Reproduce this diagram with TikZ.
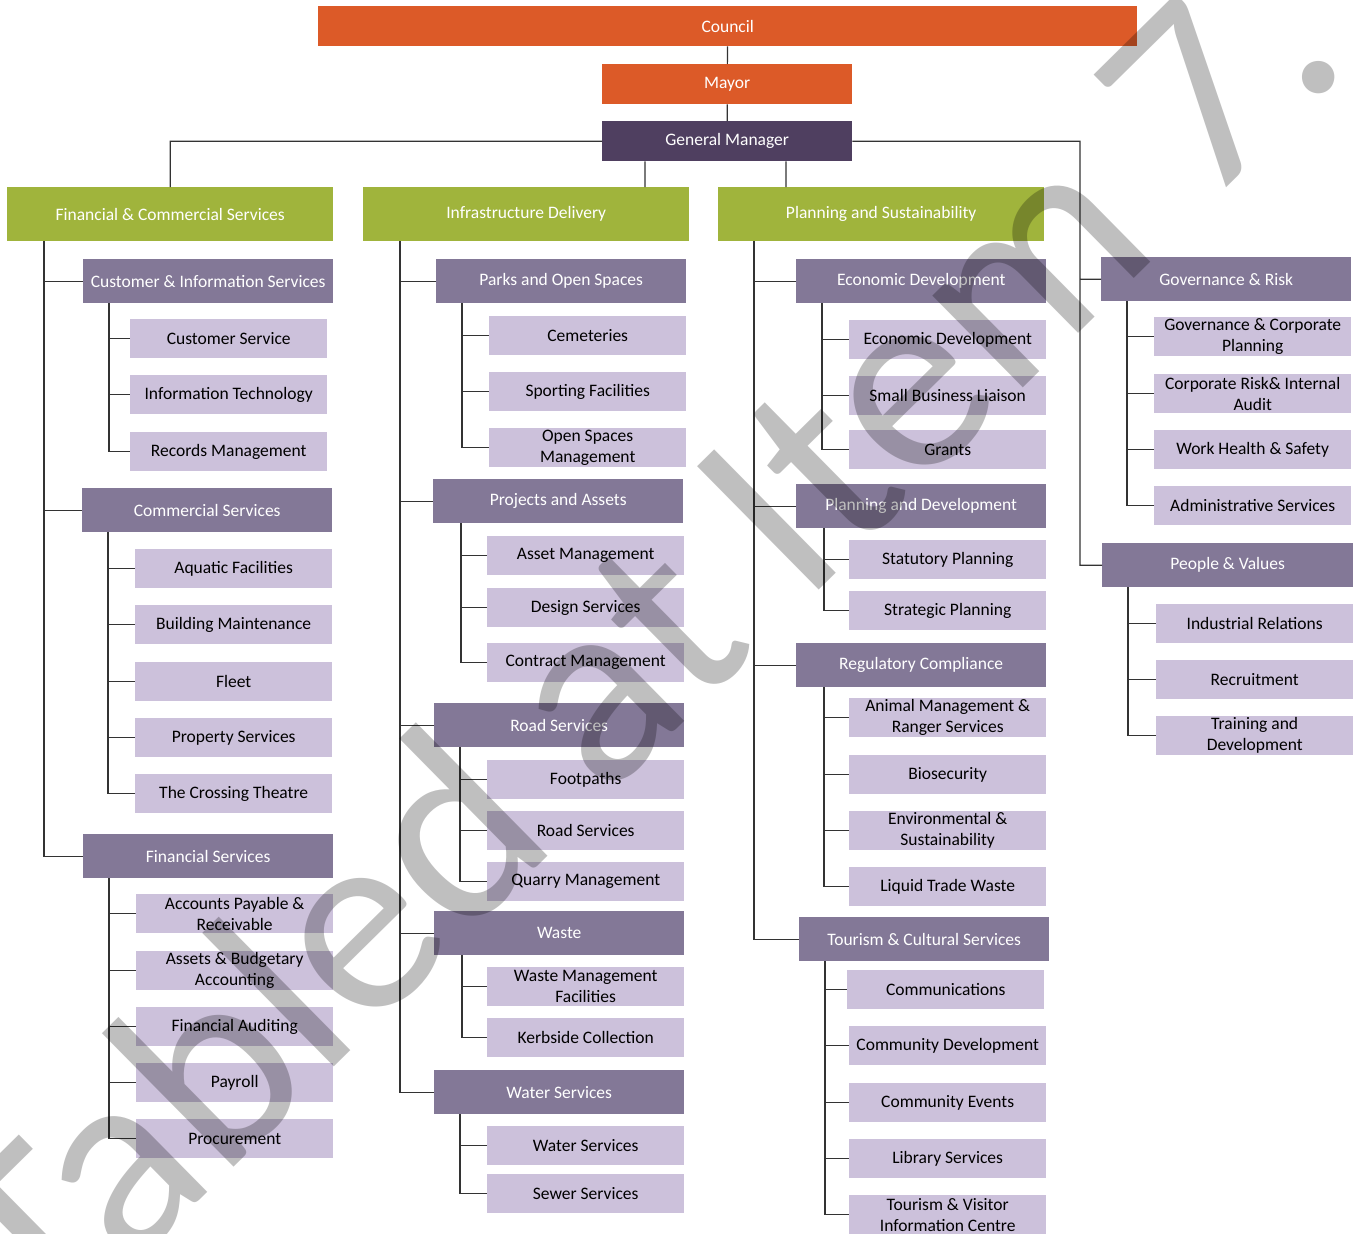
\documentclass[tikz,border=0pt]{standalone}
\usepackage{fontspec}
\setmainfont{Carlito}
\usetikzlibrary{positioning}
\definecolor{orangebar}{HTML}{DC5A28}
\definecolor{gmpurple}{HTML}{4F3F60}
\definecolor{divgreen}{HTML}{A0B43C}
\definecolor{unitpurple}{HTML}{837897}
\definecolor{leafpurple}{HTML}{CCC1DB}

\begin{document}
\begin{tikzpicture}[x=1pt,y=-1pt,
	every node/.style={font=\fontsize{17.5}{21}\selectfont,align=center,anchor=north west,inner xsep=2pt,inner ysep=0pt},
	topbox/.style={fill=orangebar,text=white,minimum height=40pt},
	gmbox/.style={fill=gmpurple,text=white,minimum width=250pt,minimum height=40pt},
	divbox/.style={fill=divgreen,text=white,minimum width=326pt,minimum height=54pt},
	unitbox/.style={fill=unitpurple,text=white,minimum width=250pt,minimum height=44pt},
	leafbox/.style={fill=leafpurple,text=black,minimum width=197pt,minimum height=39pt},
	link/.style={draw=black!80,line width=1.2pt}]
	\useasboundingbox (0,0) rectangle (1361,1234);

	% top of the chart
	\node[topbox,minimum width=819pt] (council) at (318,6) {Council};
	\node[topbox,minimum width=250pt] (mayor) at (602,64) {Mayor};
	\node[gmbox] (gm) at (602,121) {General Manager};

	% divisions
	\node[divbox] (fcs) at (7,187) {Financial \& Commercial Services};
	\node[divbox] (infra) at (363,187) {Infrastructure Delivery};
	\node[divbox] (plan) at (718,187) {Planning and Sustainability};

	% financial and commercial
	\node[unitbox] (custinfo) at (83,259) {Customer \& Information Services};
	\node[leafbox] (custsvc) at (130,319) {Customer Service};
	\node[leafbox] (infotech) at (130,375) {Information Technology};
	\node[leafbox] (records) at (130,432) {Records Management};
	\node[unitbox] (commsvc) at (82,488) {Commercial Services};
	\node[leafbox] (aquatic) at (135,549) {Aquatic Facilities};
	\node[leafbox] (building) at (135,605) {Building Maintenance};
	\node[leafbox] (fleet) at (135,662) {Fleet};
	\node[leafbox] (property) at (135,718) {Property Services};
	\node[leafbox] (theatre) at (135,774) {The Crossing Theatre};
	\node[unitbox] (finsvc) at (83,834) {Financial Services};
	\node[leafbox] (accounts) at (136,894) {Accounts Payable \&\\Receivable};
	\node[leafbox] (assets) at (136,951) {Assets \& Budgetary\\Accounting};
	\node[leafbox] (auditing) at (136,1007) {Financial Auditing};
	\node[leafbox] (payroll) at (136,1063) {Payroll};
	\node[leafbox] (procure) at (136,1119) {Procurement};

	% infrastructure delivery
	\node[unitbox] (parks) at (436,259) {Parks and Open Spaces};
	\node[leafbox] (cemeteries) at (489,316) {Cemeteries};
	\node[leafbox] (sporting) at (489,372) {Sporting Facilities};
	\node[leafbox] (openspaces) at (489,428) {Open Spaces\\Management};
	\node[unitbox] (projects) at (433,479) {Projects and Assets};
	\node[leafbox] (assetmgmt) at (487,536) {Asset Management};
	\node[leafbox] (design) at (487,588) {Design Services};
	\node[leafbox] (contract) at (487,643) {Contract Management};
	\node[unitbox] (roads) at (434,703) {Road Services};
	\node[leafbox] (footpaths) at (487,760) {Footpaths};
	\node[leafbox] (roadsvc) at (487,811) {Road Services};
	\node[leafbox] (quarry) at (487,862) {Quarry Management};
	\node[unitbox] (waste) at (434,911) {Waste};
	\node[leafbox] (wastefac) at (487,967) {Waste Management\\Facilities};
	\node[leafbox] (kerbside) at (487,1018) {Kerbside Collection};
	\node[unitbox] (water) at (434,1070) {Water Services};
	\node[leafbox] (watersvc) at (487,1126) {Water Services};
	\node[leafbox] (sewer) at (487,1174) {Sewer Services};

	% planning and sustainability
	\node[unitbox] (econ) at (796,259) {Economic Development};
	\node[leafbox] (econdev) at (849,320) {Economic Development};
	\node[leafbox] (smallbiz) at (849,376) {Small Business Liaison};
	\node[leafbox] (grants) at (849,430) {Grants};
	\node[unitbox] (plandev) at (796,484) {Planning and Development};
	\node[leafbox] (statutory) at (849,540) {Statutory Planning};
	\node[leafbox] (strategic) at (849,591) {Strategic Planning};
	\node[unitbox] (regcomp) at (796,643) {Regulatory Compliance};
	\node[leafbox] (animal) at (849,698) {Animal Management \&\\Ranger Services};
	\node[leafbox] (biosec) at (849,755) {Biosecurity};
	\node[leafbox] (environ) at (849,811) {Environmental \&\\Sustainability};
	\node[leafbox] (liquid) at (849,867) {Liquid Trade Waste};
	\node[unitbox] (tourism) at (799,917) {Tourism \& Cultural Services};
	\node[leafbox] (comms) at (847,970) {Communications};
	\node[leafbox] (commdev) at (849,1026) {Community Development};
	\node[leafbox] (events) at (849,1083) {Community Events};
	\node[leafbox] (library) at (849,1139) {Library Services};
	\node[leafbox] (visitor) at (849,1195) {Tourism \& Visitor\\Information Centre};

	% units under the general manager
	\node[unitbox] (gov) at (1101,257) {Governance \& Risk};
	\node[leafbox] (govcorp) at (1154,317) {Governance \& Corporate\\Planning};
	\node[leafbox] (risk) at (1154,374) {Corporate Risk\& Internal\\Audit};
	\node[leafbox] (whs) at (1154,430) {Work Health \& Safety};
	\node[leafbox] (admin) at (1154,486) {Administrative Services};
	\node[unitbox,minimum width=251pt] (people) at (1102,543) {People \& Values};
	\node[leafbox] (industrial) at (1156,604) {Industrial Relations};
	\node[leafbox] (recruit) at (1156,660) {Recruitment};
	\node[leafbox] (training) at (1156,716) {Training and\\Development};

	% links
	\path[link] (council) -- (mayor) (mayor) -- (gm)
		(gm.west) -| (fcs.north)
		([xshift=43pt]gm.south west) -- ([xshift=43pt]gm.south west |- infra.north)
		([xshift=184pt]gm.south west) -- ([xshift=184pt]gm.south west |- plan.north)
		(gm.east) -| ([xshift=-21pt]gov.west) -- (gov.west)
		(gm.east) -| ([xshift=-22pt]people.west) -- (people.west);
	\foreach \u in {custinfo,commsvc,finsvc}
		\draw[link] ([xshift=37pt]fcs.south west) |- (\u.west);
	\foreach \u in {parks,projects,roads,waste,water}
		\draw[link] ([xshift=37pt]infra.south west) |- (\u.west);
	\foreach \u in {econ,plandev,regcomp,tourism}
		\draw[link] ([xshift=36pt]plan.south west) |- (\u.west);
	\foreach \u/\v in {custinfo/custsvc,custinfo/infotech,custinfo/records,
			commsvc/aquatic,commsvc/building,commsvc/fleet,commsvc/property,commsvc/theatre,
			finsvc/accounts,finsvc/assets,finsvc/auditing,finsvc/payroll,finsvc/procure,
			parks/cemeteries,parks/sporting,parks/openspaces,
			roads/footpaths,roads/roadsvc,roads/quarry,
			water/watersvc,water/sewer,
			econ/econdev,econ/smallbiz,econ/grants,
			tourism/comms,tourism/commdev,tourism/events,tourism/library,tourism/visitor,
			gov/govcorp,gov/risk,gov/whs,gov/admin,
			people/industrial,people/recruit,people/training}
		\draw[link] ([xshift=26pt]\u.south west) |- (\v.west);
	\foreach \u/\v in {projects/assetmgmt,projects/design,projects/contract,
			waste/wastefac,waste/kerbside,
			plandev/statutory,plandev/strategic,
			regcomp/animal,regcomp/biosec,regcomp/environ,regcomp/liquid}
		\draw[link] ([xshift=28pt]\u.south west) |- (\v.west);

	% watermark
	\node[anchor=base east,rotate=44.6,inner sep=0pt,font=\fontsize{270}{270}\selectfont,
		text=black,opacity=0.25] (mark) at (1353,63) {Tabled at Item 7.};
\end{tikzpicture}
\end{document}
